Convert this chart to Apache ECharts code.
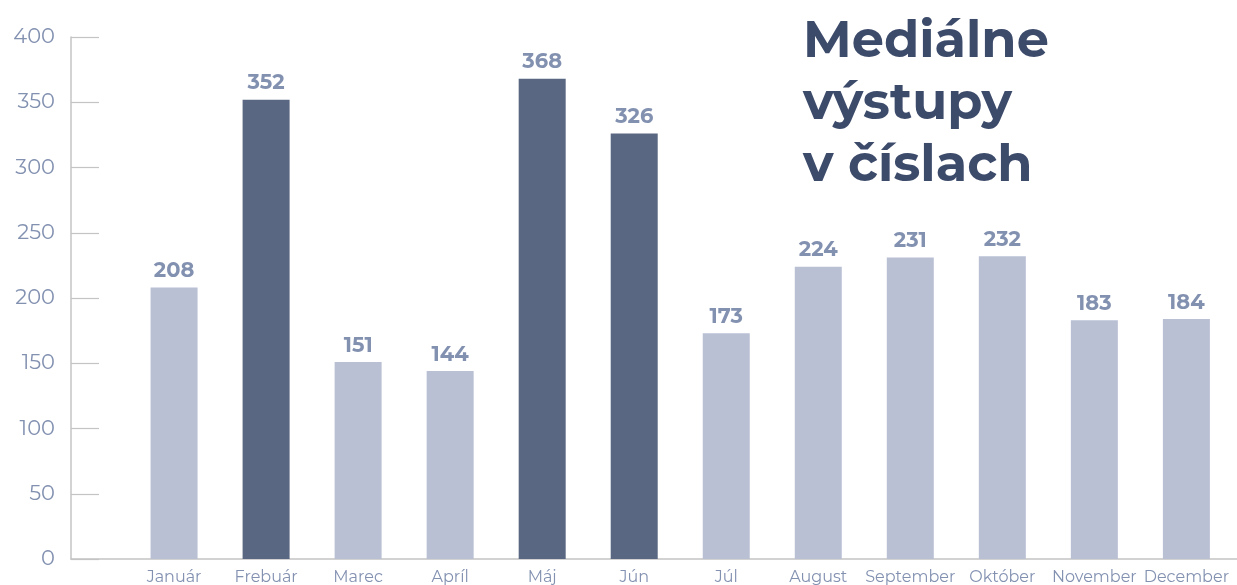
<!DOCTYPE html>
<html>
<head>
<meta charset="utf-8">
<script src="https://cdn.jsdelivr.net/npm/echarts@6/dist/echarts.min.js"></script>
<style>
  html, body { margin: 0; padding: 0; background: #fff; }
  #main { width: 1237px; height: 585px; }
</style>
</head>
<body>
<div id="main"></div>
<script>
// data
const months = ['Január', 'Frebuár', 'Marec', 'Apríl', 'Máj', 'Jún', 'Júl', 'August', 'September', 'Október', 'November', 'December'];
const values = [208, 352, 151, 144, 368, 326, 173, 224, 231, 232, 183, 184];
const highlighted = ['Frebuár', 'Máj', 'Jún'];

const lightColor = '#b9c0d4';
const darkColor = '#5a6782';
const labelColor = '#8391b1';

const chart = echarts.init(document.getElementById('main'));

const idx = months.map((m, i) => i);

chart.setOption({
    animation: false,
    title: {
        text: 'Mediálne\nvýstupy\nv číslach',
        left: 798,
        top: 6,
        textStyle: {
            fontFamily: 'Montserrat, "Open Sans", sans-serif',
            fontWeight: 'bold',
            fontSize: 51,
            lineHeight: 62,
            color: '#3d4b6b'
        }
    },
    grid: { left: 71, right: 0, top: 37, bottom: 26 },
    xAxis: {
        type: 'value',
        min: -1.12,
        max: 11.55,
        splitLine: { show: false },
        axisLine: { show: true, onZero: false, lineStyle: { color: '#c4c4c4', width: 1.5 } },
        axisTick: { show: false },
        axisLabel: {
            customValues: idx,
            formatter: v => months[Math.round(v)] || '',
            color: labelColor,
            fontFamily: 'Montserrat, "Open Sans", sans-serif',
            fontSize: 16,
            margin: 10
        }
    },
    yAxis: {
        type: 'value',
        min: 0,
        max: 400,
        interval: 50,
        splitLine: { show: false },
        axisLine: { show: true, onZero: false, lineStyle: { color: '#c4c4c4', width: 1.5 } },
        axisTick: { show: true, inside: true, length: 28, lineStyle: { color: '#c4c4c4', width: 1.2 } },
        axisLabel: {
            color: labelColor,
            fontFamily: 'Montserrat, "Open Sans", sans-serif',
            fontSize: 21,
            margin: 16
        }
    },
    series: [{
        type: 'bar',
        barWidth: 47,
        data: values.map((v, i) => ({
            value: [i, v],
            itemStyle: { color: highlighted.includes(months[i]) ? darkColor : lightColor }
        })),
        label: {
            show: true,
            position: 'top',
            distance: 6,
            formatter: p => p.value[1],
            color: labelColor,
            fontFamily: 'Montserrat, "Open Sans", sans-serif',
            fontWeight: 'bold',
            fontSize: 21
        }
    }]
});
</script>
</body>
</html>
